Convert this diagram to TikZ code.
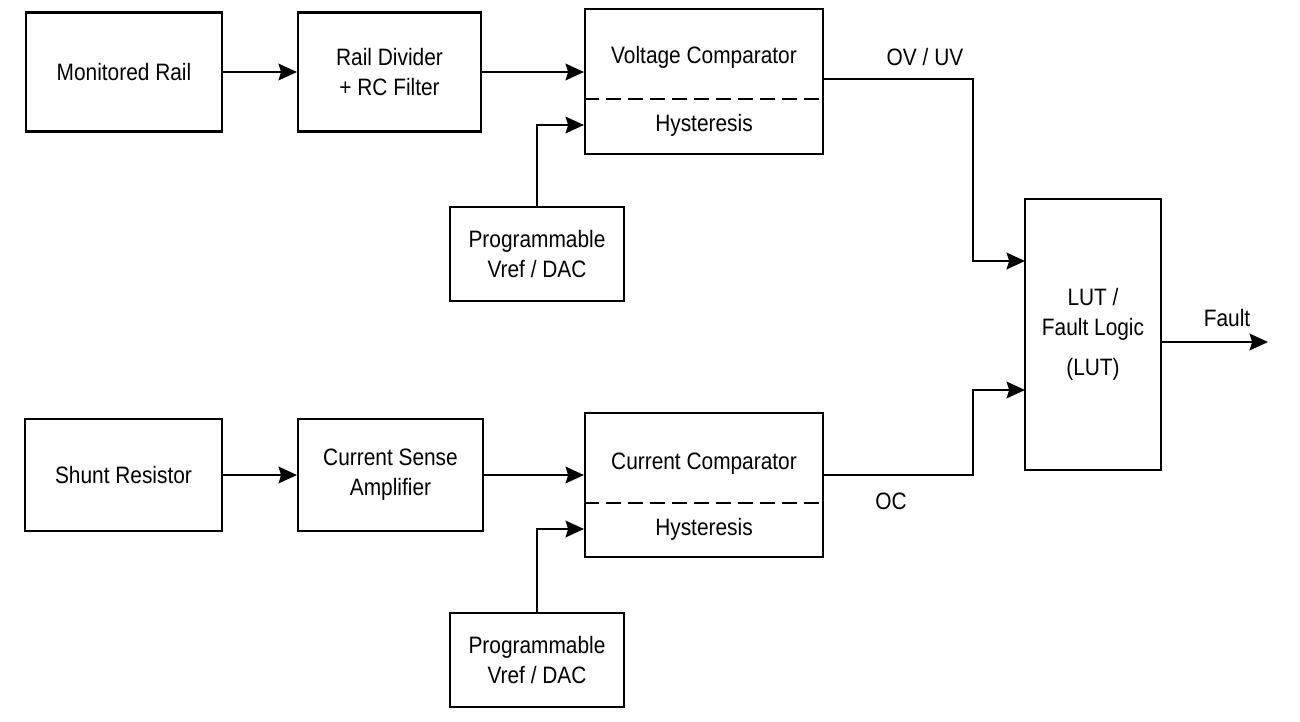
\documentclass[tikz,border=0pt]{standalone}
\usepackage{fontspec}
\setmainfont[FakeStretch=0.88]{Liberation Sans}
\usetikzlibrary{arrows.meta}

\tikzset{
    block/.style={draw, line width=1.2pt, align=center, inner sep=0pt,
        font=\fontsize{13.5}{17}\selectfont},
    wire/.style={line width=1.2pt},
    sig/.style={wire, -{Stealth[length=10.5pt,width=9.5pt,inset=1.5pt]}},
    tag/.style={inner sep=1pt, font=\fontsize{13.5}{17}\selectfont},
    split/.style={line width=0.9pt, dash pattern=on 8.5pt off 4pt},
}

\begin{document}
\begin{tikzpicture}[x=0.02cm,y=-0.02cm]
        \useasboundingbox (0,0) rectangle (1300,721);

        \node[block, minimum width=3.92cm, minimum height=2.38cm] (rail) at (124,72) {Monitored Rail};
        \node[block, minimum width=3.66cm, minimum height=2.38cm] (divider) at (389.5,72) {Rail Divider\\+ RC Filter};
        \node[block, minimum width=4.76cm, minimum height=2.9cm] (vcomp) at (704,81.5) {};
        \node[tag] (vtitle) at (704,57) {Voltage Comparator};
        \node[tag] (vhyst) at (704,125) {Hysteresis};
        \node[block, minimum width=3.48cm, minimum height=1.88cm] (vrefA) at (537,254) {Programmable\\Vref / DAC};

        \node[block, minimum width=3.94cm, minimum height=2.24cm] (shunt) at (123.5,475) {Shunt Resistor};
        \node[block, minimum width=3.7cm, minimum height=2.24cm] (csa) at (390.5,475) {Current Sense\\Amplifier};
        \node[block, minimum width=4.76cm, minimum height=2.88cm] (icomp) at (704,485) {};
        \node[tag] (ititle) at (704,464) {Current Comparator};
        \node[tag] (ihyst) at (704,529) {Hysteresis};
        \node[block, minimum width=3.48cm, minimum height=1.88cm] (vrefB) at (537,660) {Programmable\\Vref / DAC};

        \node[block, minimum width=2.72cm, minimum height=5.42cm] (lut) at (1093,334.5) {LUT /\\Fault Logic\\[6pt](LUT)};

        \foreach \c/\y in {vcomp/99, icomp/503} {
            \draw[split] (\c.west |- 0,\y) -- (\c.east |- 0,\y);
        }

        \draw[sig] (rail.east) -- (divider.west);
        \draw[sig] (divider.east) -- (divider.east -| vcomp.west);
        \draw[sig] (vrefA.north) |- (vhyst -| vcomp.west);
        \draw[sig] (shunt.east) -- (csa.west);
        \draw[sig] (csa.east) -- (csa.east -| icomp.west);
        \draw[sig] (vrefB.north) |- (ihyst -| icomp.west);

        \coordinate (vbend) at (973,79);
        \coordinate (lutA) at (1025,261);
        \coordinate (ibend) at (973,475);
        \coordinate (lutB) at (1025,390);
        \coordinate (fault) at (1268,342);
        \draw[sig] (vbend -| vcomp.east) -- (vbend) |- (lutA);
        \draw[sig] (ibend -| icomp.east) -- (ibend) |- (lutB);
        \draw[sig] (fault -| lut.east) -- (fault);

        \node[tag] (ovuv) at (925,57) {OV / UV};
        \node[tag] (oc) at (891,501) {OC};
        \node[tag] (flt) at (1227,318) {Fault};
    \end{tikzpicture}
\end{document}
